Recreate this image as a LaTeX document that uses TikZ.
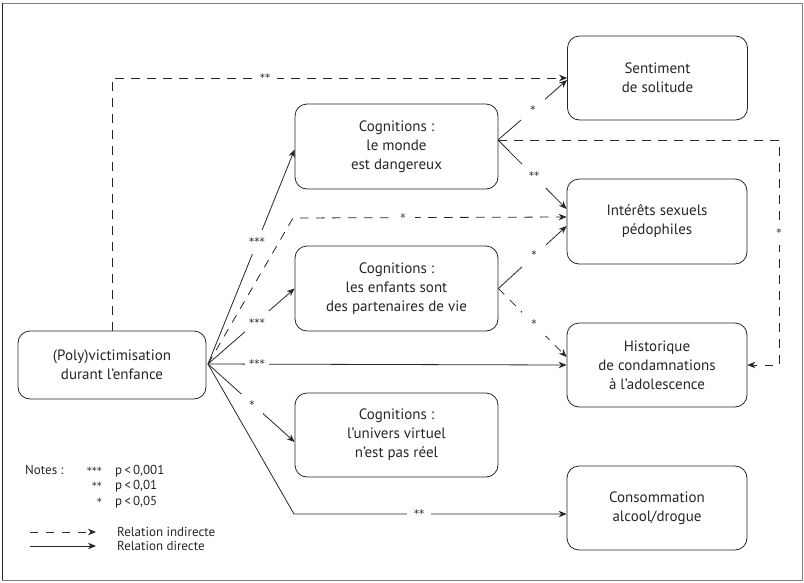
\documentclass[tikz,border=0pt]{standalone}
\usepackage{fontspec}
\setmainfont{PT Sans}
\newfontfamily\starfont{DejaVu Sans}
\usetikzlibrary{arrows.meta}
\definecolor{ink}{RGB}{38,38,38}
\newcommand\sg[1]{\raisebox{-0.25em}{\starfont #1}}
\newcommand\legstars[1]{{\starfont\fontsize{10}{10}\selectfont #1}}

\begin{document}
\begin{tikzpicture}[x=1pt,y=-1pt,
  box/.style={draw=ink, rounded corners=12pt, line width=0.8pt,
    minimum width=180pt, minimum height=84pt, align=center,
    font=\fontsize{15}{19}\selectfont, text=ink, inner sep=0pt},
  cog/.style={box, minimum width=203pt, minimum height=85pt},
  link/.style={draw=ink, line width=0.8pt, -{Stealth[length=8pt,width=6.5pt]}},
  ind/.style={link, dash pattern=on 8.5pt off 7.5pt},
  sig/.style={fill=white, text=ink, font=\fontsize{10.5}{10.5}\selectfont,
    minimum size=24pt, inner sep=0pt},
  legend/.style={text=ink, font=\fontsize{13}{15}\selectfont, inner sep=0pt},
]
\useasboundingbox (0,0) rectangle (804,582);
% outer frame: darker left side
\draw[draw=gray, line width=0.9pt] (2,3) rectangle (802,580);
\draw[draw=ink, line width=1pt] (2,3) -- (2,580);

% boxes
\node[box, minimum width=188pt, minimum height=68pt] (poly) at (112,365) {(Poly)victimisation\\durant l’enfance};
\node[cog] (monde) at (396.5,146.5) {Cognitions :\\le monde\\est dangereux};
\node[cog] (enfants) at (396.5,288.5) {Cognitions :\\les enfants sont\\des partenaires de vie};
\node[cog, minimum height=84pt] (univers) at (396.5,435) {Cognitions :\\l’univers virtuel\\n’est pas réel};
\node[box] (sol) at (657.5,78) {Sentiment\\de solitude};
\node[box, minimum height=85pt] (interets) at (657,221.5) {Intérêts sexuels\\pédophiles};
\node[box] (hist) at (657,365) {Historique\\de condamnations\\à l’adolescence};
\node[box] (conso) at (657,508) {Consommation\\alcool/drogue};

% corner points of the routed connectors
\coordinate (fan) at (208,364);
\coordinate (c1) at (293,218);
\coordinate (c2) at (294,514);
\coordinate (mout) at (498,140);
\coordinate (c3) at (779,140);
\coordinate (c4) at (779,365);

% connectors from the victimisation box
\draw[ind] (poly.north) |- (sol.west);
\draw[link] (fan) -- ([yshift=-3pt]monde.west);
\draw[ind] (fan) -- (c1) -- ([yshift=4.5pt]interets.west);
\draw[link] (fan) -- (enfants.west);
\draw[link] (fan) -- (hist.west);
\draw[link] (fan) -- ([yshift=-7pt]univers.west);

% connectors from the cognitions
\draw[link] (mout) -- ([yshift=-2pt]sol.west);
\draw[link] (mout) -- ([yshift=12.5pt]interets.west);
\draw[ind] (mout) -- (c3) -- (c4) -- (hist.east);
\draw[link] (enfants.east) -- ([yshift=-4.5pt]interets.west);
\draw[ind] (enfants.east) -- ([yshift=8pt]hist.west);

% significance labels
\node[sig] (s1) at (265,78) {\sg{**}};
\node[sig] (s2) at (257,242) {\sg{***}};
\node[sig] (s3) at (403,218) {\sg{*}};
\node[sig] (s4) at (257,323) {\sg{***}};
\node[sig] (s5) at (257,364) {\sg{***}};
\node[sig, minimum size=22pt] (s6) at (252,405) {\sg{*}};
\node[sig] (s7) at (533,110) {\sg{*}};
\node[sig] (s8) at (534,176) {\sg{**}};
\node[sig] (s9) at (534,255) {\sg{*}};
\node[sig] (s10) at (534,324) {\sg{*}};
\node[sig] (s11) at (779,233) {\sg{*}};

\draw[link] (fan) -- (c2) -- (c2 -| conso.west);
\node[sig] (s12) at (419,514) {\sg{**}};

% legend
\node[legend, anchor=base west] (notes) at (25,474) {Notes :};
\node[legend, anchor=base east] (n1) at (102,474) {\legstars{***}};
\node[legend, anchor=base east] (n2) at (102,489) {\legstars{**}};
\node[legend, anchor=base east] (n3) at (102,505) {\legstars{*}};
\node[legend, anchor=base west] (p1) at (115,474) {p\,<\,0,001};
\node[legend, anchor=base west] (p2) at (115,489) {p\,<\,0,01};
\node[legend, anchor=base west] (p3) at (115,505) {p\,<\,0,05};
\coordinate (la) at (30,532);
\coordinate (lb) at (96,532);
\coordinate (lc) at (30,546);
\coordinate (ld) at (96,546);
\draw[ind, dash pattern=on 8pt off 8pt] (la) -- (lb);
\draw[link] (lc) -- (ld);
\node[legend, anchor=west] (r1) at (117,532) {Relation indirecte};
\node[legend, anchor=west] (r2) at (117,546) {Relation directe};
\end{tikzpicture}
\end{document}
